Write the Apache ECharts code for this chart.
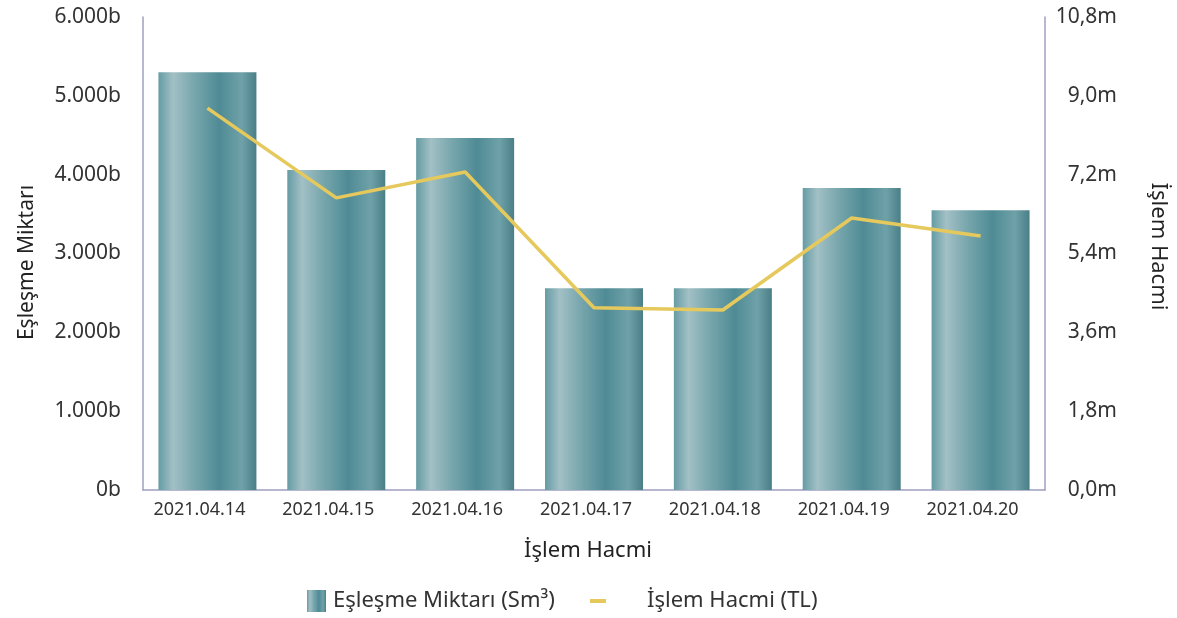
<!DOCTYPE html>
<html><head><meta charset="utf-8">
<script src="https://cdn.jsdelivr.net/npm/echarts@6/dist/echarts.min.js"></script>
<style>html,body{margin:0;padding:0;background:#fff}#c{width:1177px;height:618px}</style>
</head><body><div id="c"></div>
<script>
const categories = ['2021.04.14','2021.04.15','2021.04.16','2021.04.17','2021.04.18','2021.04.19','2021.04.20'];
const matchAmount = [5300, 4060, 4465, 2560, 2560, 3830, 3550]; // million Sm3 -> shown as "b"
const tradeVolume = [8.72, 6.67, 7.26, 4.16, 4.11, 6.21, 5.80]; // m TL
const barName = 'Eşleşme Miktarı (Sm³)';
const lineName = 'İşlem Hacmi (TL)';

const font = 'Noto Sans';
const axisColor = '#a09fc2';
const barGrad = new echarts.graphic.LinearGradient(0,0,1,0,[
  {offset:0, color:'#659ca4'},
  {offset:0.15, color:'#a2c0c5'},
  {offset:0.35, color:'#7aa8ae'},
  {offset:0.62, color:'#4f8b95'},
  {offset:0.85, color:'#6fa1a8'},
  {offset:1, color:'#4a7f87'}
]);

const chart = echarts.init(document.getElementById('c'));
chart.setOption({
  animation:false,
  textStyle:{fontFamily:font},
  grid:{left:143, right:132, top:17, bottom:128},
  legend:[{
    data:[{name:barName, icon:'rect'}],
    left:302, top:585, itemWidth:19, itemHeight:22, itemGap:10,
    textStyle:{fontSize:22, color:'#333', fontFamily:font, padding:[0,0,0,2]}
  },{
    data:[{name:lineName, icon:'path://M0,0 L16,0 L16,4 L0,4 Z'}],
    left:585, top:585, itemWidth:16, itemHeight:4,
    textStyle:{fontSize:22, color:'#333', fontFamily:font, padding:[0,0,0,36]}
  }],
  xAxis:{
    type:'category', data:categories,
    name:'İşlem Hacmi', nameLocation:'middle', nameGap:50,
    nameTextStyle:{fontSize:22, color:'#222', fontFamily:font, padding:[0,12,0,0]},
    axisLine:{lineStyle:{color:axisColor, width:1.5}},
    axisTick:{show:false},
    axisLabel:{fontSize:18, color:'#333', margin:11, padding:[0,16,0,0]}
  },
  yAxis:[{
    type:'value', min:0, max:6000, interval:1000,
    name:'Eşleşme Miktarı', nameLocation:'middle', nameGap:105,
    nameTextStyle:{fontSize:21, color:'#222', fontFamily:font, padding:[0,18,0,0]},
    axisLine:{show:true, lineStyle:{color:axisColor, width:1.5}},
    axisTick:{show:false}, splitLine:{show:false},
    axisLabel:{fontSize:21, color:'#333', margin:22,
      formatter:v=> (v===0?'0':(v/1000).toFixed(3)) + 'b'}
  },{
    type:'value', min:0, max:10.8, interval:1.8,
    name:'İşlem Hacmi', nameLocation:'middle', nameGap:102, nameRotate:-90,
    nameTextStyle:{fontSize:22, color:'#222', fontFamily:font, padding:[0,14,0,0]},
    axisLine:{show:true, lineStyle:{color:axisColor, width:1.5}},
    axisTick:{show:false}, splitLine:{show:false},
    axisLabel:{fontSize:21, color:'#333', margin:72, align:'right',
      formatter:v=> v.toFixed(1).replace('.',',') + 'm'}
  }],
  series:[{
    name:barName, type:'bar', data:matchAmount, barWidth:98,
    itemStyle:{color:barGrad}, yAxisIndex:0
  },{
    name:lineName, type:'line', data:tradeVolume, yAxisIndex:1,
    symbol:'none', showSymbol:false,
    lineStyle:{color:'#e6c95c', width:3.5},
    itemStyle:{color:'#e6c95c'}
  }]
});
</script></body></html>
